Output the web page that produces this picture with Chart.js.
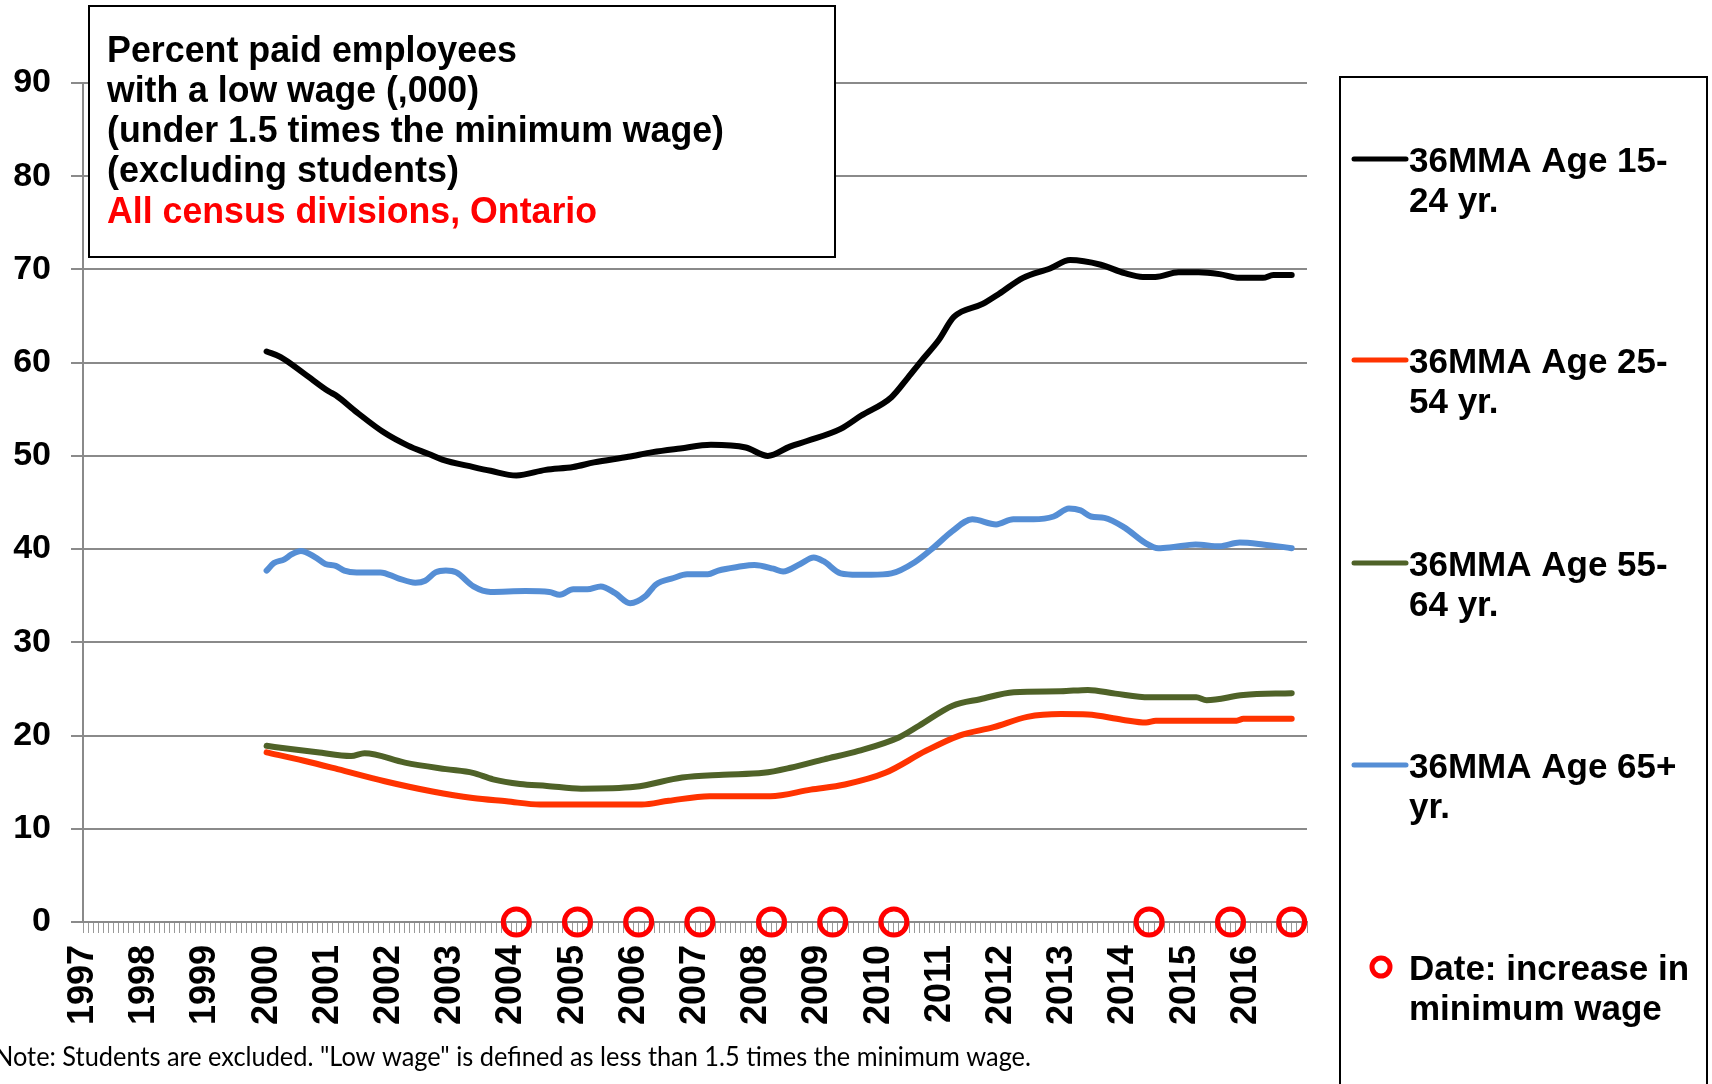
<!DOCTYPE html>
<html>
<head>
<meta charset="utf-8">
<script src="https://cdn.jsdelivr.net/npm/chart.js@4/dist/chart.umd.min.js"></script>
<style>
  html, body { margin: 0; padding: 0; background: #fff; }
  #wrap { width: 1712px; height: 1084px; position: relative; }
</style>
</head>
<body>
<div id="wrap"><canvas id="chart"></canvas></div>
<script>
// Data (x = decimal year, y = percent)
const age1524Dates = [2000.0, 2000.23, 2000.62, 2001.02, 2001.13, 2001.47, 2001.92, 2002.31, 2002.65, 2002.87,
  2003.38, 2003.66, 2004.08, 2004.56, 2005.01, 2005.35, 2005.91, 2006.31, 2006.76, 2007.26, 2007.83, 2008.19,
  2008.55, 2008.83, 2009.38, 2009.71, 2010.21, 2010.48, 2010.70, 2010.98, 2011.23, 2011.70, 2011.97, 2012.36,
  2012.80, 2013.13, 2013.63, 2014.02, 2014.32, 2014.52, 2014.90, 2015.23, 2015.57, 2015.90, 2016.28, 2016.45, 2016.75]
const age1524 = [61.2, 60.6, 58.8, 56.9, 56.5, 54.7, 52.5, 51.1, 50.2, 49.6,
  48.8, 48.4, 47.9, 48.5, 48.8, 49.3, 49.9, 50.4, 50.8, 51.2, 50.9, 50.0,
  51.0, 51.6, 52.9, 54.3, 56.3, 58.4, 60.2, 62.4, 64.9, 66.3, 67.4, 69.1,
  70.1, 71.0, 70.5, 69.6, 69.2, 69.2, 69.7, 69.7, 69.5, 69.1, 69.1, 69.4, 69.4]

const age2554Dates = [2000.0, 2000.61, 2001.16, 2001.93, 2002.71, 2003.37, 2003.92, 2004.47, 2006.13, 2006.57,
  2007.24, 2008.23, 2008.89, 2009.45, 2010.11, 2010.77, 2011.32, 2011.88, 2012.43, 2012.98, 2013.42, 2013.98,
  2014.37, 2014.53, 2015.85, 2015.96, 2016.75]
const age2554 = [18.2, 17.3, 16.4, 15.1, 14.0, 13.3, 12.95, 12.6, 12.6, 13.0,
  13.5, 13.5, 14.2, 14.75, 16.0, 18.35, 20.0, 20.9, 22.0, 22.3, 22.25, 21.7,
  21.4, 21.6, 21.6, 21.8, 21.8]

const age5564Dates = [2000.0, 2000.39, 2000.83, 2001.38, 2001.60, 2002.26, 2002.93, 2003.37, 2003.70, 2004.14,
  2004.58, 2005.14, 2006.02, 2006.79, 2007.46, 2008.12, 2008.56, 2009.11, 2009.67, 2010.33, 2010.66, 2011.21,
  2011.66, 2012.21, 2012.98, 2013.42, 2013.87, 2014.42, 2015.19, 2015.36, 2015.96, 2016.75]
const age5564 = [18.9, 18.55, 18.2, 17.8, 18.1, 17.1, 16.4, 16.0, 15.3, 14.8,
  14.6, 14.3, 14.5, 15.5, 15.8, 16.0, 16.55, 17.45, 18.35, 19.8, 21.05, 23.2,
  23.9, 24.65, 24.75, 24.9, 24.5, 24.1, 24.1, 23.8, 24.35, 24.55]

const age65Dates = [2000.0, 2000.12, 2000.29, 2000.40, 2000.56, 2000.79, 2000.96, 2001.13, 2001.27, 2001.47,
  2001.86, 2002.14, 2002.43, 2002.59, 2002.76, 2002.93, 2003.10, 2003.38, 2003.66, 2004.23, 2004.62,
  2004.79, 2005.01, 2005.24, 2005.46, 2005.69, 2005.94, 2006.19, 2006.36, 2006.65, 2006.87, 2007.21, 2007.38,
  2007.71, 2007.97, 2008.28, 2008.44, 2008.72, 2008.94, 2009.10, 2009.38, 2009.66, 2009.88, 2010.21, 2010.59,
  2010.92, 2011.20, 2011.53, 2011.92, 2012.20, 2012.53, 2012.86, 2013.11, 2013.30, 2013.47, 2013.69, 2014.02,
  2014.35, 2014.57, 2014.79, 2015.18, 2015.57, 2015.90, 2016.28, 2016.75]
const age65 = [37.7, 38.5, 38.9, 39.4, 39.8, 39.15, 38.4, 38.2, 37.7, 37.5,
  37.5, 36.9, 36.4, 36.6, 37.5, 37.7, 37.5, 36.0, 35.4, 35.5, 35.4,
  35.1, 35.7, 35.7, 36.0, 35.3, 34.2, 34.95, 36.2, 36.9, 37.3, 37.3, 37.7,
  38.1, 38.3, 37.9, 37.6, 38.4, 39.1, 38.7, 37.4, 37.25, 37.25, 37.4, 38.6,
  40.3, 41.9, 43.2, 42.65, 43.2, 43.2, 43.5, 44.35, 44.15, 43.5, 43.35, 42.3,
  40.7, 40.1, 40.2, 40.5, 40.3, 40.7, 40.5, 40.1]

// Dates of minimum wage increases (drawn on the 0 line)
const minWageDates = [2004.08, 2005.08, 2006.08, 2007.08, 2008.25, 2009.25, 2010.25, 2014.42, 2015.75, 2016.75]

const yTicks = [0, 10, 20, 30, 40, 50, 60, 70, 80, 90]
const firstYear = 1997
const lastYear = 2017

const titleLines = [
  "Percent paid employees",
  "with a low wage (,000)",
  "(under 1.5 times the minimum wage)",
  "(excluding students)",
  "All census divisions, Ontario",
]
const legendLabels = [
  ["36MMA Age 15-", "24 yr."],
  ["36MMA Age 25-", "54 yr."],
  ["36MMA Age 55-", "64 yr."],
  ["36MMA Age 65+", "yr."],
  ["Date: increase in", "minimum wage"],
]
const noteText = "Note: Students are excluded. \"Low wage\" is defined as less than 1.5 times the minimum wage."

const FONT = "'Liberation Sans', Arial, sans-serif"
const GRID = "#8a8a8a"
const colors = ["#000000", "#ff3300", "#4f6228", "#558ed5"]
const CIRCLE_RED = "#ff0000"

const pts = (xs, ys) => xs.map((x, i) => ({ x: x, y: ys[i] }))

// month ticks for the x axis
const monthTicks = []
for (let m = 0; m <= (lastYear - firstYear) * 12; m++) monthTicks.push({ value: firstYear + m / 12 })

const overlay = {
  id: "overlay",
  afterDraw(chart) {
    const ctx = chart.ctx
    ctx.save()

    // title box
    ctx.fillStyle = "#fff"
    ctx.fillRect(89, 6, 746, 251)
    ctx.strokeStyle = "#000"
    ctx.lineWidth = 2
    ctx.strokeRect(89, 6, 746, 251)
    ctx.font = "bold 36px " + FONT
    ctx.textBaseline = "alphabetic"
    ctx.textAlign = "left"
    const titleY = [62, 102, 142, 182, 223]
    const titleW = [410, 372, 617, 352, 490]
    titleLines.forEach((t, i) => {
      ctx.fillStyle = i === 4 ? "#ff0000" : "#000"
      ctx.fillText(t, 107, titleY[i], titleW[i])
    })

    // legend box (runs off the bottom)
    ctx.fillStyle = "#fff"
    ctx.fillRect(1340, 77, 367, 1020)
    ctx.strokeRect(1340, 77, 367, 1020)
    const rowY = [159, 360, 563, 765]
    ctx.lineCap = "round"
    ctx.lineWidth = 5
    rowY.forEach((y, i) => {
      ctx.strokeStyle = colors[i]
      ctx.beginPath()
      ctx.moveTo(1354, y)
      ctx.lineTo(1406, y)
      ctx.stroke()
    })
    ctx.strokeStyle = CIRCLE_RED
    ctx.lineWidth = 5
    ctx.beginPath()
    ctx.arc(1381, 967, 9, 0, Math.PI * 2)
    ctx.stroke()

    ctx.fillStyle = "#000"
    ctx.font = "bold 35px " + FONT
    const allY = rowY.concat([967])
    legendLabels.forEach((lines, i) => {
      ctx.fillText(lines[0], 1409, allY[i] + 13)
      ctx.fillText(lines[1], 1409, allY[i] + 53)
    })

    // footnote
    ctx.font = "26px Lato, 'Open Sans', sans-serif"
    ctx.fillText(noteText, -6, 1066, 1037)
    ctx.restore()
  },
}

new Chart(document.getElementById("chart"), {
  type: "line",
  data: {
    datasets: [
      {
        label: "Date: increase in minimum wage",
        data: minWageDates.map((d) => ({ x: d, y: 0 })),
        showLine: false,
        pointRadius: 13,
        pointHoverRadius: 13,
        pointBorderWidth: 5,
        pointBorderColor: CIRCLE_RED,
        pointBackgroundColor: "rgba(0,0,0,0)",
        clip: false,
      },
      { label: "36MMA Age 15-24 yr.", data: pts(age1524Dates, age1524), borderColor: colors[0] },
      { label: "36MMA Age 25-54 yr.", data: pts(age2554Dates, age2554), borderColor: colors[1] },
      { label: "36MMA Age 55-64 yr.", data: pts(age5564Dates, age5564), borderColor: colors[2] },
      { label: "36MMA Age 65+ yr.", data: pts(age65Dates, age65), borderColor: colors[3] },
    ],
  },
  options: {
    responsive: true,
    maintainAspectRatio: false,
    animation: false,
    events: [],
    layout: { padding: { top: 83, right: 405, left: 0, bottom: 0 } },
    elements: {
      line: { borderWidth: 6, cubicInterpolationMode: "monotone", borderCapStyle: "round", borderJoinStyle: "round" },
      point: { radius: 0 },
    },
    plugins: { legend: { display: false }, tooltip: { enabled: false } },
    scales: {
      x: {
        type: "linear",
        min: firstYear,
        max: lastYear,
        afterBuildTicks: (axis) => { axis.ticks = monthTicks.map((t) => ({ value: t.value })) },
        afterFit: (axis) => { axis.height = 162 },
        border: { color: GRID, width: 2 },
        grid: { drawOnChartArea: false, drawTicks: true, tickLength: 11, tickColor: "#9a9a9a", tickWidth: 1 },
        ticks: {
          autoSkip: false,
          maxRotation: 90,
          minRotation: 90,
          padding: 12,
          color: "#000",
          font: { family: FONT, size: 36, weight: "bold" },
          callback: (v, i) => (i % 12 === 0 && i < 240 ? String(firstYear + i / 12) : ""),
        },
      },
      y: {
        min: 0,
        max: 90,
        afterBuildTicks: (axis) => { axis.ticks = yTicks.map((v) => ({ value: v })) },
        afterFit: (axis) => { axis.width = 83 },
        border: { color: GRID, width: 2 },
        grid: { color: GRID, lineWidth: 2, tickLength: 12 },
        ticks: {
          padding: 20,
          color: "#000",
          font: { family: FONT, size: 34, weight: "bold" },
        },
      },
    },
  },
  plugins: [overlay],
})
</script>
</body>
</html>
